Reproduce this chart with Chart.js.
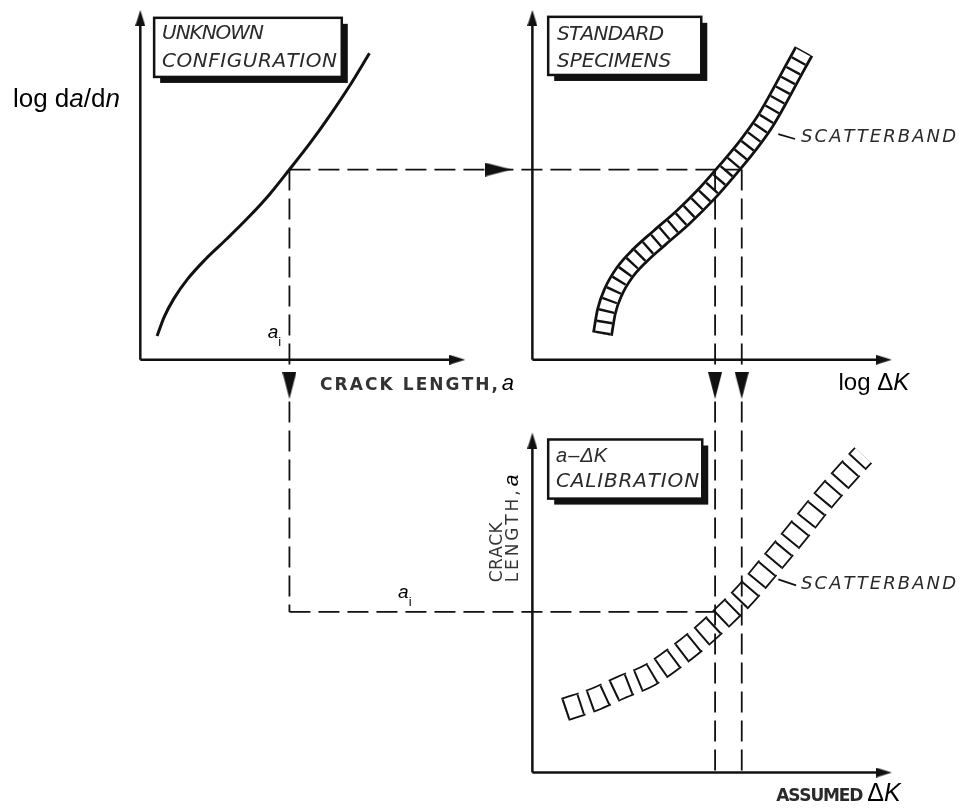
<!DOCTYPE html>
<html>
<head>
<meta charset="utf-8">
<script src="https://cdn.jsdelivr.net/npm/chart.js@4.4.1/dist/chart.umd.min.js"></script>
<style>
  html, body { margin: 0; padding: 0; background: #fff; }
  #wrap { width: 967px; height: 812px; }
</style>
</head>
<body>
<div id="wrap"><canvas id="diagrama" width="967" height="812"></canvas></div>
<script>
// unidades del diagrama: 0..967 a lo ancho, 0..812 hacia abajo
const curvaDesconocida = [
  {x:153,y:335},{x:160,y:316},{x:170,y:297},{x:184,y:277},{x:202,y:257},{x:224,y:236},
  {x:246,y:214},{x:267,y:191},{x:287,y:166},{x:308,y:139},{x:328,y:111},{x:348,y:81},
  {x:368,y:48}
];
const bandaEstandar = [
  {x:604,y:333},{x:608,y:310},{x:615,y:290},{x:626,y:271},{x:642,y:253},{x:662,y:235},
  {x:686,y:214},{x:710,y:190},{x:731,y:166},{x:750,y:143},{x:768,y:118},{x:783,y:92},
  {x:797,y:66},{x:808,y:46}
];
const bandaCalibracion = [
  {x:566,y:714},{x:598,y:703},{x:622,y:692},{x:652,y:679},{x:678,y:661},{x:702,y:642},
  {x:725,y:621},{x:748,y:598},{x:770,y:572},{x:790,y:548},{x:807,y:527},{x:823,y:507},
  {x:840,y:487},{x:857,y:468},{x:868,y:456}
];
const ejeP1Y = [{x:136,y:359},{x:136,y:17}];
const ejeP1X = [{x:136,y:359},{x:452,y:359}];
const ejeP2Y = [{x:533,y:359},{x:533,y:17}];
const ejeP2X = [{x:533,y:359},{x:884,y:359}];
const ejeP3Y = [{x:533,y:778},{x:533,y:446}];
const ejeP3X = [{x:533,y:778},{x:884,y:778}];
const puntasArriba = [{x:136,y:4},{x:533,y:4},{x:533,y:433}];
const puntasDerecha = [{x:465,y:359},{x:897,y:359},{x:897,y:778}];
const flechaDerecha = [{x:512,y:166}];
const flechasAbajo = [{x:287,y:399},{x:718,y:399},{x:745,y:399}];
const guiaH1 = [{x:287,y:166},{x:745,y:166}];
const guiaV1 = [{x:287,y:166},{x:287,y:615}];
const guiaH2 = [{x:287,y:615},{x:718,y:615}];
const guiaV2 = [{x:718,y:166},{x:718,y:778}];
const guiaV3 = [{x:745,y:166},{x:745,y:778}];
const rotuloBanda1 = [{x:782,y:130},{x:799,y:135}];
const rotuloBanda2 = [{x:782,y:582},{x:800,y:588}];

const NEGRO = '#111';
const TINTA = '#2a2a2a';
const STENCIL = '"DejaVu Sans", "Liberation Sans", sans-serif';
const ARIAL = '"Liberation Sans", Arial, sans-serif';

// cajas de titulo y textos (posiciones de maquetacion)
const cajas = [
  {x:150, y:12, w:190, h:60},
  {x:549, y:11, w:155, h:59},
  {x:549, y:440, w:156, h:60}
];
const textosCaja = [
  {t:'UNKNOWN', x:158, y:34, w:102},
  {t:'CONFIGURATION', x:158, y:62, w:175},
  {t:'STANDARD', x:558, y:35, w:107},
  {t:'SPECIMENS', x:558, y:62, w:114},
  {t:'CALIBRATION', x:557, y:488, w:143},
  {t:'SCATTERBAND', x:805, y:138, w:155, size:18},
  {t:'SCATTERBAND', x:805, y:592, w:155, size:18}
];

function punta(largo, mitad) {
  const c = document.createElement('canvas');
  c.width = largo * 2;
  c.height = mitad * 2;
  const g = c.getContext('2d');
  g.fillStyle = NEGRO;
  g.beginPath();
  g.moveTo(largo, mitad);
  g.lineTo(0, 0);
  g.lineTo(0, mitad * 2);
  g.closePath();
  g.fill();
  return c;
}
const puntaEje = punta(16, 5);
const puntaGuia = punta(27, 7);

function linea(data, extra) {
  return Object.assign({
    data, showLine: true, pointRadius: 0, borderColor: NEGRO, borderWidth: 2.5,
    tension: 0, fill: false, borderCapStyle: 'butt', borderJoinStyle: 'round', order: 2
  }, extra);
}
function curva(data, extra) {
  return linea(data, Object.assign({cubicInterpolationMode: 'monotone'}, extra));
}
function flechas(data, estilo, giro) {
  return {
    data, showLine: false, pointStyle: estilo, pointRotation: giro, pointRadius: 6,
    pointBackgroundColor: NEGRO, pointBorderWidth: 0, order: 0
  };
}
const guia = {borderWidth: 1.8, borderDash: [21, 8], order: 1};

const datasets = [
  linea(ejeP1Y), linea(ejeP1X), linea(ejeP2Y), linea(ejeP2X), linea(ejeP3Y), linea(ejeP3X),
  curva(curvaDesconocida, {borderWidth: 3}),
  // banda de dispersion de probetas estandar: bordes, interior y peldaños
  curva(bandaEstandar, {borderWidth: 21, order: 6}),
  curva(bandaEstandar, {borderWidth: 15.5, borderColor: '#fff', order: 5}),
  curva(bandaEstandar, {borderWidth: 15.5, borderDash: [2.4, 8.6], order: 4}),
  // banda de calibracion a-dK
  curva(bandaCalibracion, {borderWidth: 24, borderDash: [18, 8], order: 6}),
  curva(bandaCalibracion, {borderWidth: 20.5, borderColor: '#fff', order: 5}),
  curva(bandaCalibracion, {borderWidth: 20.5, borderDash: [2, 13.5, 2, 8.5], order: 4}),
  linea(guiaH1, guia), linea(guiaV1, guia), linea(guiaH2, guia), linea(guiaV2, guia), linea(guiaV3, guia),
  linea(rotuloBanda1, {borderWidth: 1.8}), linea(rotuloBanda2, {borderWidth: 1.8}),
  flechas(puntasArriba, puntaEje, -90),
  flechas(puntasDerecha, puntaEje, 0),
  flechas(flechaDerecha, puntaGuia, 0),
  flechas(flechasAbajo, puntaGuia, 90)
];

function espaciado(ctx, texto, x, y, ancho) {
  const chars = [...texto];
  const anchos = chars.map(c => ctx.measureText(c).width);
  const total = anchos.reduce((a, b) => a + b, 0);
  const extra = chars.length > 1 ? (ancho - total) / (chars.length - 1) : 0;
  let cx = x;
  chars.forEach((c, i) => { ctx.fillText(c, cx, y); cx += anchos[i] + extra; });
}
function tramos(ctx, partes, x, y) {
  let cx = x;
  partes.forEach(p => {
    ctx.font = p.f;
    ctx.fillText(p.t, cx + (p.dx || 0), y + (p.dy || 0));
    cx += ctx.measureText(p.t).width + (p.dx || 0);
  });
}

const rotulos = {
  id: 'rotulos',
  afterDraw(chart) {
    const ctx = chart.ctx;
    const sx = chart.scales.x, sy = chart.scales.y;
    const px = v => sx.getPixelForValue(v), py = v => sy.getPixelForValue(v);
    ctx.save();
    cajas.forEach(c => {
      const x = px(c.x), y = py(c.y), w = px(c.x + c.w) - x, h = py(c.y + c.h) - y;
      ctx.fillStyle = NEGRO;
      ctx.fillRect(x + 6, y + 6, w, h);
      ctx.fillStyle = '#fff';
      ctx.fillRect(x, y, w, h);
      ctx.strokeStyle = NEGRO;
      ctx.lineWidth = 2.5;
      ctx.strokeRect(x, y, w, h);
    });
    ctx.fillStyle = TINTA;
    ctx.textBaseline = 'alphabetic';
    textosCaja.forEach(t => {
      ctx.font = `oblique ${t.size || 20}px ${STENCIL}`;
      espaciado(ctx, t.t, px(t.x), py(t.y), t.w);
    });
    // a - dK
    tramos(ctx, [
      {t: 'a', f: `italic 20px ${ARIAL}`},
      {t: '\u2013', f: `20px ${ARIAL}`, dx: 1},
      {t: '\u0394', f: `oblique 20px ${ARIAL}`, dx: 1},
      {t: 'K', f: `italic 20px ${ARIAL}`}
    ], px(557), py(463));

    ctx.fillStyle = '#000';
    tramos(ctx, [
      {t: 'log d', f: `26px ${ARIAL}`},
      {t: 'a', f: `italic 26px ${ARIAL}`},
      {t: '/d', f: `26px ${ARIAL}`},
      {t: 'n', f: `italic 26px ${ARIAL}`}
    ], px(7), py(103));
    tramos(ctx, [
      {t: 'log \u0394', f: `24px ${ARIAL}`},
      {t: 'K', f: `italic 24px ${ARIAL}`}
    ], px(843), py(390));
    tramos(ctx, [{t: 'a', f: `italic 19px ${ARIAL}`}, {t: 'i', f: `13px ${ARIAL}`, dy: 8}], px(265), py(337));
    tramos(ctx, [{t: 'a', f: `italic 19px ${ARIAL}`}, {t: 'i', f: `13px ${ARIAL}`, dy: 8}], px(397), py(601));

    ctx.fillStyle = '#333';
    ctx.font = `bold 17px ${STENCIL}`;
    espaciado(ctx, 'CRACK LENGTH,', px(318), py(390), 178);
    ctx.fillStyle = '#000';
    ctx.font = `italic 22px ${ARIAL}`;
    ctx.fillText('a', px(502), py(390));

    ctx.fillStyle = TINTA;
    ctx.font = `bold 17px ${STENCIL}`;
    espaciado(ctx, 'ASSUMED', px(780), py(807), 87);
    ctx.fillStyle = '#000';
    tramos(ctx, [
      {t: '\u0394', f: `25px ${ARIAL}`},
      {t: 'K', f: `italic 25px ${ARIAL}`}
    ], px(872), py(807));

    // etiqueta vertical del tercer panel
    ctx.save();
    ctx.translate(px(502), py(585));
    ctx.rotate(-Math.PI / 2);
    ctx.fillStyle = '#333';
    ctx.font = `17px ${STENCIL}`;
    espaciado(ctx, 'CRACK', 0, 0, 60);
    ctx.restore();
    ctx.save();
    ctx.translate(px(518), py(585));
    ctx.rotate(-Math.PI / 2);
    ctx.fillStyle = '#333';
    ctx.font = `17px ${STENCIL}`;
    espaciado(ctx, 'LENGTH,', 0, 0, 92);
    ctx.fillStyle = '#000';
    ctx.font = `italic 21px ${ARIAL}`;
    ctx.fillText('a', 96, 0);
    ctx.restore();
    ctx.restore();
  }
};

new Chart(document.getElementById('diagrama'), {
  type: 'scatter',
  data: { datasets },
  options: {
    responsive: false,
    animation: false,
    events: [],
    layout: { padding: 0 },
    plugins: { legend: { display: false }, tooltip: { enabled: false } },
    scales: {
      x: { type: 'linear', min: 0, max: 967, display: false },
      y: { type: 'linear', min: 0, max: 812, reverse: true, display: false }
    }
  },
  plugins: [rotulos]
});
</script>
</body>
</html>
